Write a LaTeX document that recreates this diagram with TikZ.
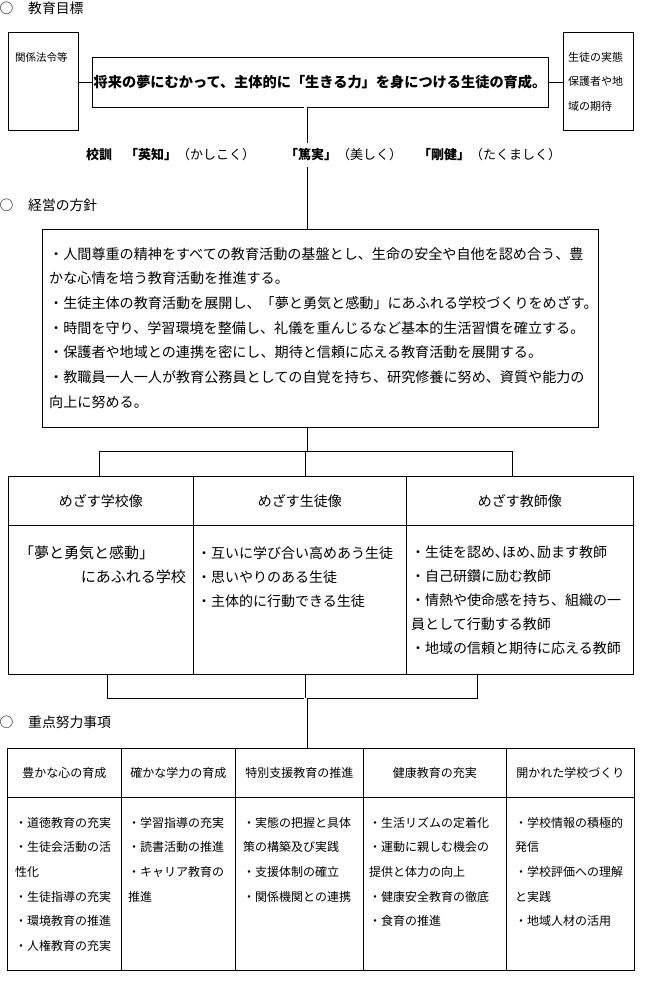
\documentclass[tikz,border=0pt]{standalone}
\usepackage{fontspec}
\setmainfont{Noto Sans CJK JP}
\newcommand{\jfs}[2]{\fontsize{#1}{#2}\selectfont}
\begin{document}
\begin{tikzpicture}[x=1pt,y=-1pt,
  frame/.style={draw, line width=0.9pt, inner sep=0pt},
  conn/.style={line width=0.9pt},
  dbl/.style={double, double distance=2.4pt, line width=0.8pt},
  txt/.style={inner sep=0pt},
  head/.style={txt, font=\jfs{13.8}{16}},
  mid/.style={txt, font=\jfs{14}{24}, align=left, anchor=north west},
  low/.style={txt, font=\jfs{12}{24.6}, align=left, anchor=north west},
  midhead/.style={frame, anchor=north west, minimum height=49, font=\jfs{14}{16}},
  lowhead/.style={frame, anchor=north west, minimum height=49, font=\jfs{12}{14}}
]
\useasboundingbox (0,0) rectangle (657,992);
\coordinate (sp) at (305.5,0);

% ---- heading 1
\node[head] (c1) at (6.5,8) {○};
\node[head, anchor=west] (t1) at (28,8) {教育目標};

% ---- top row
\node[frame, anchor=north west, minimum width=70, minimum height=98] (law) at (8,32) {};
\node[txt, font=\jfs{10.5}{12}, anchor=west] (lawt) at (15,57) {関係法令等};
\node[frame, minimum width=456, minimum height=50, font=\bfseries\jfs{14.2}{16}] (goal) at (320,82)
  {将来の夢にむかって、主体的に「生きる力」を身につける生徒の育成。};
\node[frame, anchor=north west, minimum width=70, minimum height=98] (exp) at (563,32) {};
\node[txt, font=\jfs{11}{24.5}, anchor=north west, align=left] (expt) at (568,52)
  {生徒の実態\\保護者や地\\域の期待};
\draw[conn] (law.east |- goal.west) -- (goal.west);
\draw[conn] (goal.east) -- (exp.west |- goal.east);

% ---- school motto
\node[txt, font=\bfseries\jfs{13}{15}, anchor=west] (m0) at (86,155) {校訓};
\node[txt, font=\jfs{13}{15}, anchor=west] (m1) at (125,155) {\textbf{「英知」}（かしこく）};
\node[txt, font=\jfs{13}{15}, anchor=west, minimum height=24] (m2) at (285,155) {\textbf{「篤実」}（美しく）};
\node[txt, font=\jfs{13}{15}, anchor=west] (m3) at (418,155) {\textbf{「剛健」}（たくましく）};

% ---- heading 2
\node[head] (c2) at (6.5,205) {○};
\node[head, anchor=west] (t2) at (28,205) {経営の方針};

% ---- policy box
\node[frame, anchor=north west, minimum width=556, minimum height=198] (pol) at (42,229) {};
\node[txt, anchor=north west, align=left, font=\jfs{14.1}{24.7}] (polt) at (49,247)
  {・人間尊重の精神をすべての教育活動の基盤とし、生命の安全や自他を認め合う、豊\\
   かな心情を培う教育活動を推進する。\\
   ・生徒主体の教育活動を展開し、「夢と勇気と感動」にあふれる学校づくりをめざす。\\
   ・時間を守り、学習環境を整備し、礼儀を重んじるなど基本的生活習慣を確立する。\\
   ・保護者や地域との連携を密にし、期待と信頼に応える教育活動を展開する。\\
   ・教職員一人一人が教育公務員としての自覚を持ち、研究修養に努め、資質や能力の\\
   向上に努める。};

\draw[dbl] (goal.south -| sp) -- (m2.north -| sp);
\draw[dbl] (m2.south -| sp) -- (pol.north -| sp);

% ---- middle table
\node[midhead, minimum width=185] (h1) at (8,476) {めざす学校像};
\node[midhead, minimum width=213] (h2) at (193,476) {めざす生徒像};
\node[midhead, minimum width=227] (h3) at (406,476) {めざす教師像};
\node[frame, anchor=north west, minimum width=185, minimum height=149] (b1) at (8,525) {};
\node[frame, anchor=north west, minimum width=213, minimum height=149] (b2) at (193,525) {};
\node[frame, anchor=north west, minimum width=227, minimum height=149] (b3) at (406,525) {};

\node[txt, font=\jfs{15}{16}, anchor=west] (b1a) at (19,553) {「夢と勇気と感動」};
\node[txt, font=\jfs{15}{16}, anchor=east] (b1b) at (186,577) {にあふれる学校};
\node[mid] (b2t) at (197,546) {・互いに学び合い高めあう生徒\\・思いやりのある生徒\\・主体的に行動できる生徒};
\node[mid] (b3t) at (411,546) {・生徒を認め､ほめ､励ます教師\\・自己研鑽に励む教師\\・情熱や使命感を持ち、組織の一\\員として行動する教師\\・地域の信頼と期待に応える教師};

% ---- bracket 1
\coordinate (bL) at (99,451);
\coordinate (bR) at (512,451);
\draw[dbl] (pol.south -| sp) -- (sp |- bL);
\draw[conn] (bL |- h1.north) -- (bL) -- (bR) -- (bR |- h3.north);
\draw[conn] (sp |- bL) -- (sp |- h2.north);

% ---- bracket 2
\coordinate (cL) at (107,698);
\coordinate (cR) at (477,698);
\draw[conn] (cL |- b1.south) -- (cL) -- (cR) -- (cR |- b3.south);
\draw[conn] (sp |- b2.south) -- (sp |- cL);

% ---- heading 3
\node[head] (c3) at (6.5,722) {○};
\node[head, anchor=west] (t3) at (28,722) {重点努力事項};

% ---- bottom table
\node[lowhead, minimum width=114] (k1) at (7,748) {豊かな心の育成};
\node[lowhead, minimum width=114] (k2) at (121,748) {確かな学力の育成};
\node[lowhead, minimum width=128] (k3) at (235,748) {特別支援教育の推進};
\node[lowhead, minimum width=143] (k4) at (363,748) {健康教育の充実};
\node[lowhead, minimum width=128] (k5) at (506,748) {開かれた学校づくり};
\node[frame, anchor=north west, minimum width=114, minimum height=173] (d1) at (7,797) {};
\node[frame, anchor=north west, minimum width=114, minimum height=173] (d2) at (121,797) {};
\node[frame, anchor=north west, minimum width=128, minimum height=173] (d3) at (235,797) {};
\node[frame, anchor=north west, minimum width=143, minimum height=173] (d4) at (363,797) {};
\node[frame, anchor=north west, minimum width=128, minimum height=173] (d5) at (506,797) {};

\draw[dbl] (sp |- cL) -- (sp |- k3.north);

\node[low] (d1t) at (15,817) {・道徳教育の充実\\・生徒会活動の活\\性化\\・生徒指導の充実\\・環境教育の推進\\・人権教育の充実};
\node[low] (d2t) at (128,817) {・学習指導の充実\\・読書活動の推進\\・キャリア教育の\\推進};
\node[low] (d3t) at (243,817) {・実態の把握と具体\\策の構築及び実践\\・支援体制の確立\\・関係機関との連携};
\node[low] (d4t) at (369,817) {・生活リズムの定着化\\・運動に親しむ機会の\\提供と体力の向上\\・健康安全教育の徹底\\・食育の推進};
\node[low] (d5t) at (515,817) {・学校情報の積極的\\発信\\・学校評価への理解\\と実践\\・地域人材の活用};
\end{tikzpicture}
\end{document}
